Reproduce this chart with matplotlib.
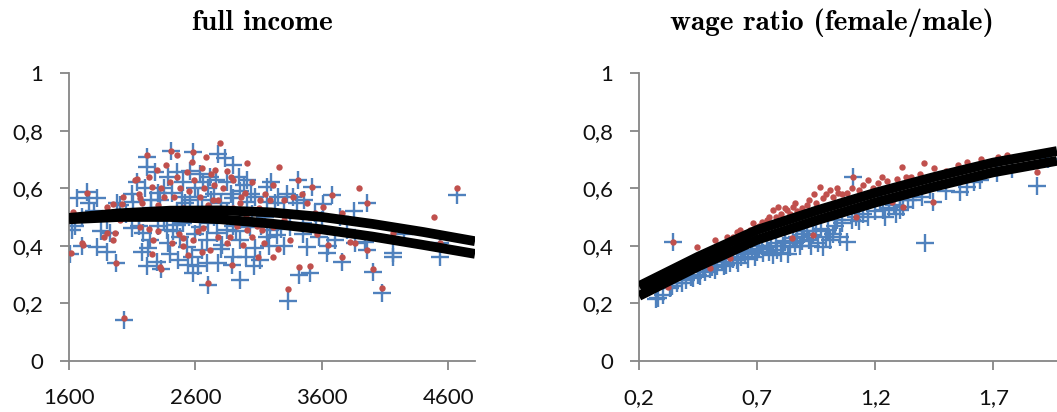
import numpy as np
import matplotlib
matplotlib.use("Agg")
import matplotlib.pyplot as plt

# ---------------- data ----------------
# Panel 1: full income vs. share; observed (+) and predicted (dots)
income_obs = [
    (1610, 0.37), (1620, 0.455), (1650, 0.47), (1663, 0.566), (1700, 0.40), (1742, 0.587),
    (1760, 0.55), (1800, 0.52), (1821, 0.566), (1821, 0.396), (1850, 0.45), (1924, 0.444),
    (1900, 0.38), (1972, 0.34), (1980, 0.548), (2003, 0.542), (2035, 0.142), (2098, 0.462),
    (2106, 0.552), (2137, 0.62), (2185, 0.444), (2216, 0.33), (2216, 0.675), (2216, 0.708),
    (2225, 0.392), (2240, 0.42), (2280, 0.655), (2296, 0.344), (2304, 0.583), (2327, 0.32),
    (2375, 0.455), (2383, 0.41), (2406, 0.73), (2414, 0.585), (2454, 0.655), (2454, 0.472),
    (2477, 0.43), (2493, 0.57), (2533, 0.396), (2540, 0.333), (2557, 0.559), (2572, 0.361),
    (2580, 0.305), (2580, 0.725), (2635, 0.65), (2635, 0.465), (2651, 0.385), (2690, 0.34),
    (2690, 0.42), (2700, 0.265), (2715, 0.64), (2770, 0.444), (2780, 0.72), (2810, 0.403),
    (2833, 0.705), (2850, 0.62), (2850, 0.455), (2890, 0.333), (2896, 0.566), (2897, 0.361),
    (2945, 0.64), (2950, 0.28), (2952, 0.42), (3007, 0.552), (3007, 0.628), (3030, 0.465),
    (3070, 0.57), (3070, 0.392), (3110, 0.35), (3165, 0.552), (3165, 0.605), (3165, 0.43),
    (3189, 0.455), (3200, 0.62), (3245, 0.437), (3330, 0.21), (3350, 0.465), (3370, 0.57),
    (3410, 0.63), (3420, 0.30), (3480, 0.396), (3505, 0.305), (3520, 0.605), (3545, 0.514),
    (3610, 0.545), (3640, 0.375), (3650, 0.40), (3680, 0.575), (3740, 0.50), (3760, 0.345),
    (3795, 0.455), (3860, 0.41), (3940, 0.413), (3960, 0.55), (3960, 0.385), (4000, 0.31),
    (4075, 0.235), (4160, 0.36), (4160, 0.375), (4530, 0.36), (4530, 0.41), (4670, 0.575),
    (1700, 0.50), (1900, 0.49), (2050, 0.51), (2150, 0.50), (2250, 0.53), (2350, 0.49),
    (2450, 0.52), (2550, 0.50), (2650, 0.53), (2750, 0.50), (2850, 0.52), (2950, 0.49),
    (3050, 0.51), (3150, 0.50), (3300, 0.52), (3450, 0.48), (3600, 0.49), (2300, 0.47),
    (2500, 0.48), (2700, 0.48), (2900, 0.47), (2100, 0.58), (2350, 0.60), (2600, 0.60),
    (2750, 0.58), (2950, 0.59), (3250, 0.57), (2400, 0.37), (2600, 0.44), (2800, 0.39),
    (3000, 0.36), (3300, 0.40), (3450, 0.44), (3550, 0.46), (3850, 0.52), (4250, 0.44),
    (2250, 0.56), (2500, 0.62), (2700, 0.60), (2900, 0.68),
    (2150, 0.47), (2200, 0.60), (2320, 0.56), (2380, 0.64), (2420, 0.45), (2520, 0.55),
    (2560, 0.66), (2620, 0.57), (2660, 0.62), (2720, 0.56), (2760, 0.63), (2800, 0.55),
    (2880, 0.58), (2920, 0.45), (2980, 0.61), (3040, 0.58), (3120, 0.47), (3180, 0.40),
    (3230, 0.55), (3280, 0.46), (3320, 0.58), (3400, 0.55), (3460, 0.56), (3580, 0.43),
    (3700, 0.42), (2180, 0.38), (2460, 0.35), (2620, 0.33), (2780, 0.34), (3060, 0.33),
]
income_pred = [
    (1615, 0.375), (1632, 0.517), (1700, 0.41), (1710, 0.403), (1742, 0.585), (1880, 0.43),
    (1900, 0.535), (1900, 0.444), (1950, 0.545), (1950, 0.42), (1964, 0.444), (1972, 0.34),
    (2020, 0.545), (2027, 0.57), (2035, 0.15), (2122, 0.63), (2137, 0.632), (2161, 0.566),
    (2161, 0.465), (2216, 0.716), (2256, 0.605), (2264, 0.42), (2296, 0.663), (2320, 0.326),
    (2327, 0.32), (2400, 0.62), (2406, 0.73), (2414, 0.41), (2454, 0.716), (2501, 0.427),
    (2533, 0.655), (2540, 0.368), (2570, 0.69), (2580, 0.725), (2635, 0.57), (2660, 0.462),
    (2683, 0.71), (2700, 0.27), (2715, 0.385), (2738, 0.559), (2754, 0.663), (2794, 0.757),
    (2873, 0.43), (2890, 0.333), (2897, 0.628), (2975, 0.403), (2990, 0.585), (3005, 0.687),
    (3007, 0.455), (3094, 0.361), (3110, 0.559), (3126, 0.455), (3213, 0.61), (3213, 0.361),
    (3213, 0.465), (3260, 0.672), (3330, 0.25), (3350, 0.42), (3370, 0.57), (3410, 0.63),
    (3420, 0.326), (3480, 0.549), (3505, 0.33), (3520, 0.605), (3545, 0.514), (3610, 0.535),
    (3650, 0.403), (3680, 0.575), (3760, 0.515), (3760, 0.36), (3820, 0.413), (3860, 0.41),
    (3890, 0.60), (3960, 0.55), (3960, 0.385), (4000, 0.32), (4075, 0.255), (4160, 0.445),
    (4485, 0.50), (4530, 0.41), (4670, 0.60),
    (1800, 0.50), (2000, 0.49), (2200, 0.51), (2300, 0.54), (2400, 0.50), (2500, 0.53),
    (2600, 0.51), (2700, 0.54), (2800, 0.49), (2900, 0.53), (3000, 0.50), (3100, 0.53),
    (3300, 0.49), (3500, 0.50), (2150, 0.58), (2350, 0.57), (2550, 0.59), (2750, 0.61),
    (2950, 0.55), (3150, 0.58), (2300, 0.45), (2500, 0.40), (2650, 0.38), (2850, 0.41),
    (3050, 0.43), (3250, 0.39), (2450, 0.64), (2650, 0.67), (2850, 0.66),
    (2180, 0.55), (2230, 0.64), (2330, 0.60), (2370, 0.68), (2430, 0.57), (2480, 0.60),
    (2590, 0.63), (2620, 0.45), (2670, 0.60), (2720, 0.65), (2780, 0.56), (2820, 0.60),
    (2880, 0.64), (2930, 0.47), (2960, 0.57), (3050, 0.62), (3090, 0.47), (3140, 0.41),
    (3190, 0.56), (3300, 0.56), (3380, 0.47), (3440, 0.58), (3560, 0.44), (2260, 0.37),
    (2470, 0.44), (2580, 0.42), (2780, 0.43), (2230, 0.46),
]
# Quadratic trend lines of the two series
income_trend_x = [1600, 2000, 2400, 2800, 3200, 3600, 4000, 4400, 4810]
income_trend_obs = [0.497, 0.513, 0.522, 0.523, 0.516, 0.500, 0.476, 0.448, 0.416]
income_trend_pred = [0.492, 0.500, 0.500, 0.492, 0.477, 0.457, 0.432, 0.403, 0.372]

# Panel 2: wage ratio (female/male) vs. share
wage_obs = [
    (0.27, 0.215), (0.28, 0.219), (0.30, 0.229), (0.33, 0.253), (0.344, 0.413), (0.36, 0.27),
    (0.38, 0.27), (0.40, 0.28), (0.43, 0.288), (0.45, 0.299), (0.46, 0.295), (0.48, 0.31),
    (0.50, 0.32), (0.51, 0.326), (0.53, 0.33), (0.55, 0.345), (0.57, 0.335), (0.586, 0.34),
    (0.60, 0.355), (0.615, 0.351), (0.63, 0.36), (0.65, 0.37), (0.66, 0.355), (0.68, 0.385),
    (0.70, 0.378), (0.71, 0.39), (0.725, 0.375), (0.74, 0.395), (0.75, 0.38), (0.768, 0.368),
    (0.785, 0.385), (0.80, 0.375), (0.81, 0.40), (0.82, 0.415), (0.84, 0.396), (0.85, 0.427),
    (0.86, 0.41), (0.87, 0.43), (0.88, 0.40), (0.90, 0.44), (0.92, 0.42), (0.937, 0.437),
    (0.95, 0.45), (0.96, 0.41), (0.98, 0.396), (1.00, 0.455), (1.009, 0.42), (1.03, 0.47),
    (1.05, 0.43), (1.06, 0.48), (1.08, 0.413), (1.10, 0.49), (1.107, 0.639), (1.12, 0.50),
    (1.15, 0.51), (1.20, 0.52), (1.221, 0.549), (1.234, 0.524), (1.26, 0.53), (1.28, 0.542),
    (1.306, 0.524), (1.306, 0.576), (1.318, 0.535), (1.34, 0.559), (1.36, 0.56), (1.40, 0.57),
    (1.412, 0.41), (1.432, 0.594), (1.446, 0.552), (1.50, 0.59), (1.56, 0.587), (1.59, 0.604),
    (1.62, 0.62), (1.645, 0.628), (1.717, 0.653), (1.78, 0.665), (1.886, 0.608), (1.93, 0.70),
    (0.34, 0.26), (0.42, 0.29), (0.47, 0.32), (0.52, 0.315), (0.56, 0.33), (0.62, 0.34),
    (0.64, 0.38), (0.69, 0.36), (0.72, 0.40), (0.76, 0.40), (0.78, 0.41), (0.83, 0.37),
    (0.89, 0.415), (0.91, 0.45), (0.93, 0.40), (0.97, 0.46), (0.99, 0.43), (1.02, 0.44),
    (1.04, 0.49), (1.13, 0.485), (1.17, 0.50), (1.24, 0.50), (1.29, 0.51),
]
wage_pred = [
    (0.25, 0.26), (0.30, 0.28), (0.323, 0.257), (0.344, 0.413), (0.36, 0.31), (0.40, 0.32),
    (0.446, 0.396), (0.47, 0.36), (0.50, 0.323), (0.50, 0.375), (0.522, 0.42), (0.55, 0.39),
    (0.573, 0.43), (0.586, 0.358), (0.60, 0.43), (0.615, 0.448), (0.628, 0.455), (0.65, 0.445),
    (0.683, 0.479), (0.70, 0.46), (0.721, 0.483), (0.74, 0.49), (0.768, 0.524), (0.789, 0.535),
    (0.80, 0.51), (0.827, 0.524), (0.848, 0.427), (0.853, 0.535), (0.87, 0.52), (0.89, 0.53),
    (0.91, 0.54), (0.937, 0.437), (0.95, 0.55), (0.967, 0.604), (0.98, 0.565), (1.009, 0.594),
    (1.02, 0.57), (1.043, 0.583), (1.06, 0.58), (1.08, 0.583), (1.107, 0.639), (1.12, 0.50),
    (1.13, 0.595), (1.17, 0.628), (1.213, 0.618), (1.25, 0.625), (1.27, 0.552), (1.293, 0.632),
    (1.314, 0.674), (1.318, 0.535), (1.35, 0.64), (1.39, 0.649), (1.408, 0.688), (1.446, 0.552),
    (1.50, 0.66), (1.59, 0.691), (1.65, 0.70), (1.72, 0.708), (1.76, 0.715), (1.886, 0.656),
    (1.95, 0.73),
    (0.42, 0.345), (0.53, 0.39), (0.58, 0.41), (0.63, 0.43), (0.67, 0.455), (0.71, 0.47),
    (0.75, 0.50), (0.78, 0.50), (0.82, 0.53), (0.84, 0.51), (0.86, 0.55), (0.92, 0.56),
    (0.94, 0.58), (0.99, 0.58), (1.04, 0.60), (1.10, 0.60), (1.15, 0.61), (1.19, 0.60),
    (1.23, 0.64), (1.33, 0.64), (1.45, 0.67), (1.55, 0.68),
]
wage_trend_x = [0.2, 0.45, 0.7, 0.95, 1.2, 1.45, 1.7, 1.97]
wage_trend_pred = [0.260, 0.362, 0.455, 0.522, 0.584, 0.639, 0.689, 0.729]
wage_trend_obs = [0.226, 0.328, 0.421, 0.488, 0.550, 0.605, 0.655, 0.695]

titles = ["full income", "wage ratio (female/male)"]
y_ticks = [0, 0.2, 0.4, 0.6, 0.8, 1.0]
y_ticklabels = ["0", "0,2", "0,4", "0,6", "0,8", "1"]
income_xticks = [1600, 2600, 3600, 4600]
income_xticklabels = ["1600", "2600", "3600", "4600"]
wage_xticks = [0.2, 0.7, 1.2, 1.7]
wage_xticklabels = ["0,2", "0,7", "1,2", "1,7"]

# ---------------- style ----------------
BLUE = "#4F81BD"
RED = "#C0504D"
AXIS_GRAY = "#868686"
W, H = 1057, 412

fig = plt.figure(figsize=(W / 100, H / 100), dpi=100)
fig.patch.set_facecolor("white")

ax1 = fig.add_axes([69 / W, 1 - 361 / H, (475 - 69) / W, (361 - 73) / H])
ax2 = fig.add_axes([639 / W, 1 - 361 / H, (1057 - 639) / W, (361 - 73) / H])


def draw_panel(ax, obs, pred, tx, t_obs, t_pred, xlim, xticks, xticklabels):
    obs = np.asarray(obs)
    pred = np.asarray(pred)
    ax.plot(obs[:, 0], obs[:, 1], linestyle="none", marker="+", ms=13, mew=1.7,
            color=BLUE, zorder=2)
    ax.plot(pred[:, 0], pred[:, 1], linestyle="none", marker="o", ms=4.6, mew=0,
            color=RED, zorder=3)
    for ty in (t_obs, t_pred):
        ax.plot(tx, ty, color="black", lw=7, solid_capstyle="butt",
                solid_joinstyle="round", zorder=4)
    ax.set_xlim(*xlim)
    ax.set_ylim(0, 1)
    ax.set_xticks(xticks)
    ax.set_xticklabels(xticklabels)
    ax.set_yticks(y_ticks)
    ax.set_yticklabels(y_ticklabels)
    for side in ("top", "right"):
        ax.spines[side].set_visible(False)
    for side in ("left", "bottom"):
        ax.spines[side].set_color(AXIS_GRAY)
        ax.spines[side].set_linewidth(1.3)
    ax.tick_params(axis="both", direction="out", length=6.5, width=1.3,
                   color=AXIS_GRAY, labelsize=16, labelcolor="#111111")
    ax.tick_params(axis="y", pad=12)
    ax.tick_params(axis="x", pad=13)
    for lab in ax.get_xticklabels() + ax.get_yticklabels():
        lab.set_fontfamily("Lato")
    ax.set_facecolor("white")


draw_panel(ax1, income_obs, income_pred, income_trend_x, income_trend_obs,
           income_trend_pred, (1600, 4810), income_xticks, income_xticklabels)
draw_panel(ax2, wage_obs, wage_pred, wage_trend_x, wage_trend_obs,
           wage_trend_pred, (0.2, 1.97), wage_xticks, wage_xticklabels)

fig.text(262 / W, 1 - 23 / H, titles[0], ha="center", va="center",
         fontfamily="cmb10", fontsize=21)
fig.text(832 / W, 1 - 23 / H, titles[1], ha="center", va="center",
         fontfamily="cmb10", fontsize=21)

fig.savefig("out.png", dpi=100, facecolor="white")
